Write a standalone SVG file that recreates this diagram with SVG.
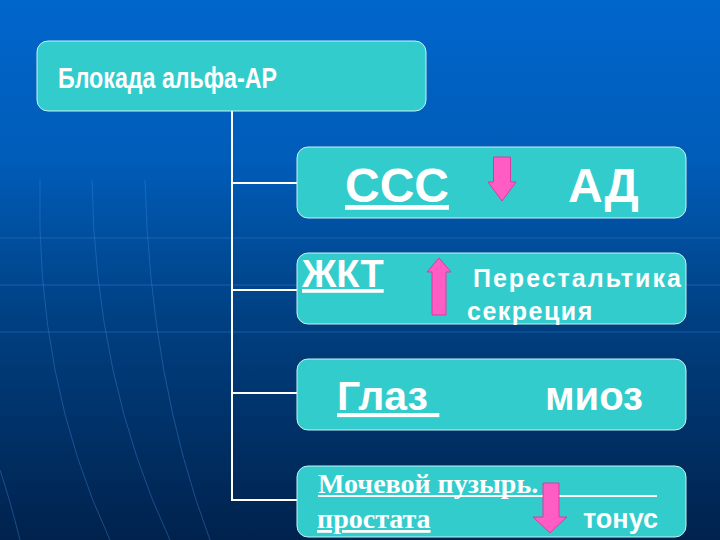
<svg xmlns="http://www.w3.org/2000/svg" width="720" height="540" viewBox="0 0 720 540">
<defs>
<linearGradient id="bg" x1="0" y1="0" x2="0" y2="1">
<stop offset="0" stop-color="#0066cc"/>
<stop offset="0.3" stop-color="#005cb8"/>
<stop offset="0.6" stop-color="#003f80"/>
<stop offset="1" stop-color="#00224d"/>
</linearGradient>
</defs>
<style>
.box{fill:#33cccc;stroke:#c8f4f4;stroke-width:1}
.sans{font-family:"Liberation Sans",Arial,sans-serif;font-weight:bold;fill:#ffffff}
.serif{font-family:"Liberation Serif","Times New Roman",serif;font-weight:bold;fill:#ffffff}
.u{text-decoration:underline}
.arrow{fill:#ff5cc4;stroke:#d63d9e;stroke-width:1}
.conn{stroke:#ffffff;stroke-width:2;fill:none}
.deco{stroke:#3a7fd0;stroke-width:1;fill:none;opacity:0.45}
</style>
<rect width="720" height="540" fill="url(#bg)"/>
<g id="background-decor">
<line class="deco" x1="0" y1="238" x2="720" y2="238"/>
<line class="deco" x1="0" y1="285" x2="720" y2="285"/>
<line class="deco" x1="0" y1="332" x2="720" y2="332"/>
<path class="deco" d="M 40 180 Q 35 380 110 540"/>
<path class="deco" d="M 92 180 Q 95 380 170 540"/>
<path class="deco" d="M 145 180 Q 150 380 210 540"/>
<path class="deco" d="M 0 470 Q 10 500 20 540"/>
</g>
<g id="connectors">
<line class="conn" x1="232" y1="111" x2="232" y2="501"/>
<line class="conn" x1="231" y1="183" x2="297" y2="183"/>
<line class="conn" x1="231" y1="290" x2="297" y2="290"/>
<line class="conn" x1="231" y1="393" x2="297" y2="393"/>
<line class="conn" x1="231" y1="500" x2="297" y2="500"/>
</g>
<g id="root">
<rect class="box" x="37" y="41" width="389" height="70" rx="11"/>
<text class="sans" x="58" y="88" font-size="30" textLength="219" lengthAdjust="spacingAndGlyphs">Блокада альфа-АР</text>
</g>
<g id="node-sss">
<rect class="box" x="297" y="147" width="389" height="71" rx="11"/>
<text class="sans u" x="345" y="202" font-size="48">ССС</text>
<path class="arrow" d="M 493.5 157 H 510.5 V 182 H 516 L 502 201 L 488 182 H 493.5 Z"/>
<text class="sans" x="568" y="202" font-size="48">АД</text>
</g>
<g id="node-zhkt">
<rect class="box" x="297" y="253" width="389" height="71" rx="11"/>
<text class="sans u" x="302" y="287" font-size="38">ЖКТ</text>
<path class="arrow" d="M 432 315 V 272 H 427 L 439 258 L 451 272 H 446 V 315 Z"/>
<text class="sans" x="473" y="287" font-size="25" letter-spacing="2">Перестальтика</text>
<text class="sans" x="467" y="320" font-size="25" letter-spacing="1.5">секреция</text>
</g>
<g id="node-glaz">
<rect class="box" x="297" y="359" width="389" height="71" rx="11"/>
<text class="sans u" x="337" y="410" font-size="41" xml:space="preserve">Глаз </text>
<text class="sans" x="545" y="410" font-size="40">миоз</text>
</g>
<g id="node-bladder">
<rect class="box" x="297" y="466" width="389" height="71" rx="11"/>
<text class="serif" x="318" y="493" font-size="28">Мочевой пузырь.</text>
<line x1="318" y1="496" x2="657" y2="496" stroke="#ffffff" stroke-width="2"/>
<text class="serif u" x="317" y="528" font-size="28">простата</text>
<path class="arrow" d="M 543 483 H 559 V 517 H 567 L 550 533 L 533 517 H 543 Z"/>
<text class="sans" x="583" y="528" font-size="27">тонус</text>
</g>
</svg>
